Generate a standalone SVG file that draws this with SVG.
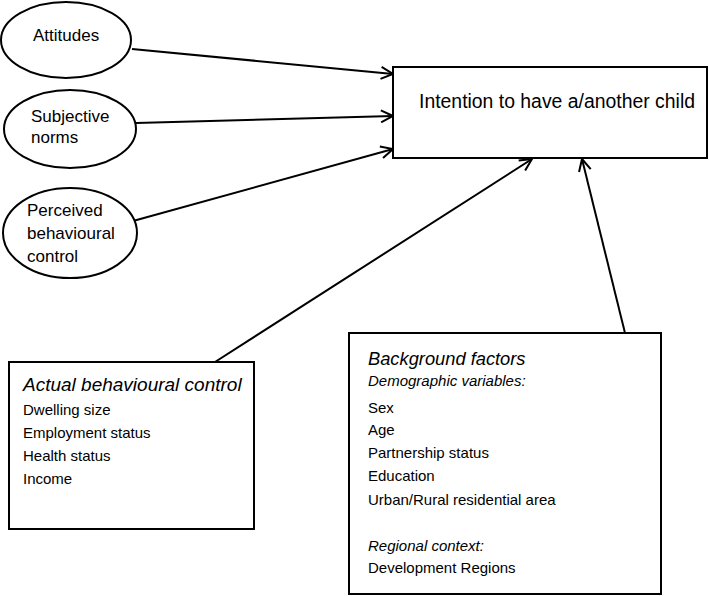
<svg xmlns="http://www.w3.org/2000/svg" width="709" height="596" viewBox="0 0 709 596">
<defs>
<marker id="arr" viewBox="0 0 14 14" refX="13" refY="7" markerWidth="14" markerHeight="14" orient="auto" markerUnits="userSpaceOnUse">
<path d="M1,1 L13,7 L1,13" fill="none" stroke="#000" stroke-width="2"/>
</marker>
<style>
.shape{fill:#fff;stroke:#000;stroke-width:2}
.t{font-family:"Liberation Sans",Arial,sans-serif;fill:#000}
.lbl{font-size:17px}
.item{font-size:15px}
.it{font-style:italic}
.conn{stroke:#000;stroke-width:2;fill:none;marker-end:url(#arr)}
</style>
</defs>
<rect width="709" height="596" fill="#fff"/>
<g id="connectors">
<line class="conn" x1="132" y1="49" x2="393" y2="74"/>
<line class="conn" x1="136" y1="123" x2="393" y2="116"/>
<line class="conn" x1="133" y1="221" x2="393" y2="149"/>
<line class="conn" x1="215" y1="362" x2="532" y2="159"/>
<line class="conn" x1="625" y1="333" x2="582" y2="159"/>
</g>
<g id="attitudes">
<ellipse class="shape" cx="66" cy="40" rx="65" ry="38"/>
<text class="t lbl" x="33" y="41">Attitudes</text>
</g>
<g id="subjective-norms">
<ellipse class="shape" cx="70" cy="129" rx="66" ry="39"/>
<text class="t lbl" x="31" y="122">Subjective</text>
<text class="t lbl" x="31" y="143">norms</text>
</g>
<g id="perceived-control">
<ellipse class="shape" cx="70" cy="233" rx="67" ry="45"/>
<text class="t lbl" x="27" y="216">Perceived</text>
<text class="t lbl" x="27" y="239">behavioural</text>
<text class="t lbl" x="27" y="262">control</text>
</g>
<g id="intention">
<rect class="shape" x="393" y="67" width="314" height="91"/>
<text class="t" x="419" y="108" font-size="19.4">Intention to have a/another child</text>
</g>
<g id="actual-control">
<rect class="shape" x="9" y="362" width="245" height="167"/>
<text class="t it" x="23" y="391" font-size="19">Actual behavioural control</text>
<text class="t item" x="23" y="415">Dwelling size</text>
<text class="t item" x="23" y="438">Employment status</text>
<text class="t item" x="23" y="461">Health status</text>
<text class="t item" x="23" y="484">Income</text>
</g>
<g id="background-factors">
<rect class="shape" x="349" y="333" width="312" height="261"/>
<text class="t it" x="368" y="365" font-size="18.3">Background factors</text>
<text class="t it item" x="368" y="386">Demographic variables:</text>
<text class="t item" x="368" y="413">Sex</text>
<text class="t item" x="368" y="435">Age</text>
<text class="t item" x="368" y="458">Partnership status</text>
<text class="t item" x="368" y="481">Education</text>
<text class="t item" x="368" y="505">Urban/Rural residential area</text>
<text class="t it item" x="368" y="551">Regional context:</text>
<text class="t item" x="368" y="573">Development Regions</text>
</g>
</svg>
